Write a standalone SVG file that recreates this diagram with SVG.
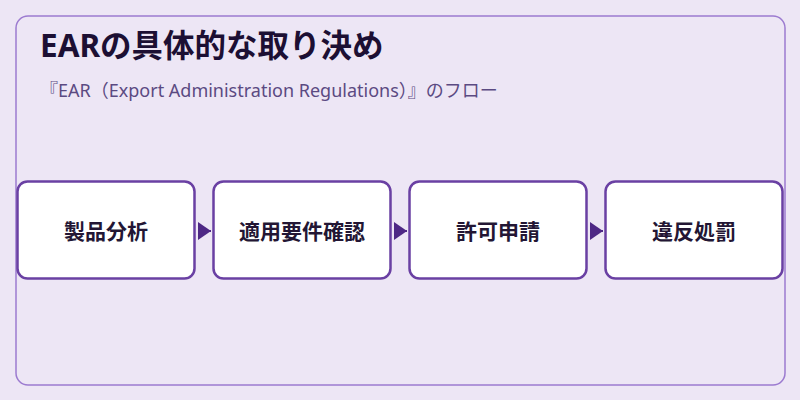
<svg xmlns="http://www.w3.org/2000/svg" width="800" height="400" viewBox="0 0 800 400">
<defs>
<style>
.node rect{fill:#ffffff;stroke:#6a40a3;stroke-width:2.5}
.node text{font-family:"Noto Sans","Noto Sans CJK JP",sans-serif;font-size:21px;font-weight:bold;fill:#231634;text-anchor:middle;dominant-baseline:central}
.conn line{stroke:#4e2885;stroke-width:2}
</style>
<marker id="arr" markerWidth="13" markerHeight="18" refX="13" refY="9" orient="auto" markerUnits="userSpaceOnUse">
<polygon points="0,0 13,9 0,18" fill="#4e2885"/>
</marker>
</defs>
<rect x="0" y="0" width="800" height="400" fill="#ede6f5"/>
<rect x="16" y="16" width="769" height="369" rx="12" fill="#ede6f5" stroke="#9c7bd0" stroke-width="1.5"/>
<text x="40" y="57" font-family="Noto Sans, Noto Sans CJK JP, sans-serif" font-size="31.5" font-weight="bold" fill="#1c0f33">EARの具体的な取り決め</text>
<text x="40" y="97" font-family="Noto Sans, Noto Sans CJK JP, sans-serif" font-size="18" fill="#5b4a82">『EAR（Export Administration Regulations）』のフロー</text>
<g id="connectors" class="conn">
<line x1="198" y1="231" x2="211" y2="231" marker-end="url(#arr)"/>
<line x1="394" y1="231" x2="407" y2="231" marker-end="url(#arr)"/>
<line x1="590" y1="231" x2="603" y2="231" marker-end="url(#arr)"/>
</g>
<g id="node1" class="node"><rect x="17.5" y="181.5" width="177" height="97" rx="10"/><text x="106" y="231">製品分析</text></g>
<g id="node2" class="node"><rect x="213.5" y="181.5" width="177" height="97" rx="10"/><text x="302" y="231">適用要件確認</text></g>
<g id="node3" class="node"><rect x="409.5" y="181.5" width="177" height="97" rx="10"/><text x="498" y="231">許可申請</text></g>
<g id="node4" class="node"><rect x="605.5" y="181.5" width="177" height="97" rx="10"/><text x="694" y="231">違反処罰</text></g>
</svg>
